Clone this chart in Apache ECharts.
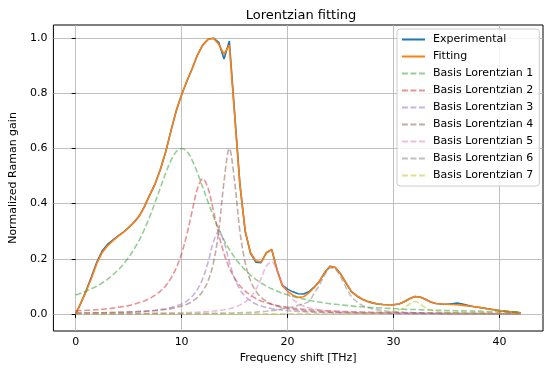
<!DOCTYPE html>
<html><head><meta charset="utf-8">
<script src="https://cdn.jsdelivr.net/npm/echarts@6/dist/echarts.min.js"></script>
<style>html,body{margin:0;padding:0;background:#fff}#c{width:550px;height:371px}</style>
</head><body><div id="c"></div>
<script>
const freq = [0,0.5,1,1.5,2,2.5,3,3.5,4,4.5,5,5.5,6,6.5,7,7.5,8,8.5,9,9.5,
  10,10.5,11,11.5,12,12.5,13,13.5,14,14.5,15,15.5,16,16.5,17,17.5,18,18.5,19,19.5,
  20,20.5,21,21.5,22,22.5,23,23.5,24,24.5,25,25.5,26,26.5,27,27.5,28,28.5,29,29.5,
  30,30.5,31,31.5,32,32.5,33,33.5,34,34.5,35,35.5,36,36.5,37,37.5,38,38.5,39,39.5,
  40,40.5,41,41.5,42];

const experimental = [
  0.000,0.040,0.086,0.136,0.188,0.228,0.252,0.268,0.283,0.297,
  0.313,0.332,0.355,0.390,0.432,0.472,0.525,0.588,0.665,0.738,
  0.795,0.845,0.890,0.940,0.976,0.996,1.000,0.985,0.925,0.990,
  0.730,0.470,0.300,0.220,0.188,0.186,0.222,0.234,0.160,0.104,
  0.090,0.080,0.073,0.072,0.080,0.097,0.118,0.150,0.173,0.168,
  0.145,0.113,0.082,0.066,0.054,0.046,0.040,0.036,0.034,0.033,
  0.033,0.036,0.044,0.055,0.063,0.061,0.053,0.043,0.038,0.036,
  0.035,0.037,0.039,0.036,0.031,0.027,0.024,0.021,0.018,0.015,
  0.012,0.010,0.008,0.006,0.004];

const fitting = [
  0.000,0.040,0.082,0.130,0.183,0.222,0.247,0.265,0.281,0.296,
  0.313,0.332,0.355,0.390,0.432,0.472,0.525,0.588,0.665,0.738,
  0.795,0.845,0.890,0.940,0.976,0.996,1.000,0.978,0.942,0.975,
  0.720,0.470,0.300,0.222,0.193,0.188,0.222,0.234,0.160,0.102,
  0.082,0.068,0.060,0.062,0.076,0.095,0.118,0.150,0.173,0.168,
  0.145,0.113,0.082,0.066,0.054,0.046,0.040,0.036,0.034,0.033,
  0.033,0.036,0.044,0.055,0.063,0.061,0.053,0.043,0.038,0.036,
  0.035,0.034,0.033,0.031,0.029,0.027,0.024,0.021,0.018,0.015,
  0.012,0.010,0.008,0.006,0.004];

const basis1 = [
  0.069,0.075,0.083,0.091,0.101,0.112,0.125,0.141,0.159,0.180,
  0.205,0.234,0.268,0.308,0.354,0.405,0.458,0.511,0.557,0.589,
  0.600,0.589,0.557,0.511,0.458,0.405,0.354,0.308,0.268,0.234,
  0.205,0.180,0.159,0.141,0.125,0.112,0.101,0.091,0.083,0.075,
  0.069,0.063,0.058,0.054,0.050,0.046,0.043,0.040,0.037,0.035,
  0.033,0.031,0.029,0.027,0.026,0.024,0.023,0.022,0.021,0.020,
  0.019,0.018,0.017,0.016,0.016,0.015,0.014,0.014,0.013,0.013,
  0.012,0.012,0.011,0.011,0.011,0.010,0.010,0.009,0.009,0.009,
  0.009,0.008,0.008,0.008,0.008];

const basis2 = [
  0.011,0.012,0.013,0.014,0.015,0.017,0.019,0.021,0.024,0.027,
  0.030,0.035,0.041,0.047,0.056,0.068,0.083,0.102,0.130,0.167,
  0.219,0.289,0.374,0.455,0.490,0.455,0.374,0.289,0.219,0.167,
  0.130,0.102,0.083,0.068,0.056,0.047,0.041,0.035,0.030,0.027,
  0.024,0.021,0.019,0.017,0.015,0.014,0.013,0.012,0.011,0.010,
  0.0092,0.0086,0.0080,0.0075,0.0070,0.0065,0.0061,0.0058,0.0054,0.0051,
  0.0049,0.0046,0.0044,0.0041,0.0039,0.0037,0.0035,0.0034,0.0032,0.0031,
  0.0030,0.0029,0.0027,0.0026,0.0025,0.0024,0.0023,0.0023,0.0022,0.0021,
  0.0020,0.0019,0.0019,0.0018,0.0018];

const basis3 = [
  0.0028,0.0030,0.0032,0.0035,0.0038,0.0041,0.0045,0.0050,0.0055,0.0061,
  0.0069,0.0077,0.0088,0.0100,0.0116,0.0135,0.016,0.019,0.023,0.029,
  0.036,0.047,0.064,0.089,0.129,0.188,0.261,0.300,0.261,0.188,
  0.129,0.089,0.064,0.047,0.036,0.029,0.023,0.019,0.016,0.0135,
  0.0116,0.0100,0.0088,0.0077,0.0069,0.0061,0.0055,0.0050,0.0045,0.0041,
  0.0038,0.0035,0.0032,0.0030,0.0028,0.0026,0.0024,0.0022,0.0021,0.0020,
  0.0019,0.0018,0.0017,0.0016,0.0015,0.0014,0.0013,0.0013,0.0012,0.0012,
  0.0011,0.0011,0.0010,0.0010,0.0010,0.0009,0.0009,0.0009,0.0008,0.0008,
  0.0008,0.0008,0.0007,0.0007,0.0007];

const basis4 = [
  0.0028,0.0031,0.0033,0.0035,0.0038,0.0042,0.0045,0.0049,0.0054,0.0059,
  0.0066,0.0073,0.0082,0.0092,0.0105,0.0120,0.0139,0.0162,0.0192,0.0231,
  0.0283,0.0353,0.0453,0.060,0.0828,0.120,0.185,0.300,0.480,0.600,
  0.480,0.300,0.185,0.120,0.0828,0.060,0.0453,0.0353,0.0283,0.0231,
  0.0192,0.0162,0.0139,0.0120,0.0105,0.0092,0.0082,0.0073,0.0066,0.0059,
  0.0054,0.0049,0.0045,0.0042,0.0038,0.0035,0.0033,0.0031,0.0028,0.0027,
  0.0025,0.0023,0.0022,0.0021,0.0020,0.0018,0.0017,0.0017,0.0016,0.0015,
  0.0014,0.0014,0.0013,0.0012,0.0012,0.0011,0.0011,0.0010,0.0010,0.0010,
  0.0009,0.0009,0.0009,0.0008,0.0008];

const basis5 = [
  0.0009,0.0010,0.0010,0.0011,0.0012,0.0013,0.0013,0.0014,0.0015,0.0016,
  0.0018,0.0019,0.0021,0.0023,0.0025,0.0027,0.0029,0.0032,0.0036,0.0040,
  0.0044,0.0050,0.0057,0.0065,0.0075,0.0088,0.0104,0.0125,0.0152,0.019,
  0.0242,0.0318,0.0431,0.0606,0.088,0.128,0.174,0.189,0.157,0.111,
  0.0755,0.0526,0.038,0.0284,0.0219,0.0174,0.0141,0.0116,0.0097,0.0083,
  0.0071,0.0062,0.0054,0.0048,0.0042,0.0038,0.0034,0.0031,0.0028,0.0026,
  0.0024,0.0022,0.0020,0.0019,0.0017,0.0016,0.0015,0.0014,0.0013,0.0012,
  0.0012,0.0011,0.0010,0.0010,0.0009,0.0009,0.0008,0.0008,0.0008,0.0007,
  0.0007,0.0007,0.0006,0.0006,0.0006];

const basis6 = [
  0.0004,0.0004,0.0004,0.0004,0.0005,0.0005,0.0005,0.0005,0.0006,0.0006,
  0.0006,0.0007,0.0007,0.0008,0.0008,0.0009,0.0009,0.0010,0.0011,0.0012,
  0.0013,0.0014,0.0015,0.0017,0.0019,0.0021,0.0023,0.0026,0.0029,0.0033,
  0.0037,0.0042,0.0048,0.0056,0.0066,0.0079,0.0095,0.0117,0.0146,0.0186,
  0.0220,0.0260,0.0310,0.0370,0.0450,0.0740,0.1040,0.1410,0.1670,0.1620,
  0.1340,0.0970,0.0640,0.0450,0.0320,0.0243,0.0186,0.0146,0.0117,0.0095,
  0.0079,0.0066,0.0056,0.0048,0.0042,0.0037,0.0033,0.0029,0.0026,0.0023,
  0.0021,0.0019,0.0017,0.0015,0.0014,0.0013,0.0012,0.0011,0.0010,0.0009,
  0.0009,0.0008,0.0008,0.0007,0.0007];

const basis7 = [
  0.0000,0.0000,0.0000,0.0000,0.0000,0.0001,0.0001,0.0001,0.0001,0.0001,
  0.0001,0.0001,0.0001,0.0001,0.0001,0.0001,0.0001,0.0001,0.0001,0.0001,
  0.0001,0.0001,0.0001,0.0001,0.0001,0.0002,0.0002,0.0002,0.0002,0.0002,
  0.0002,0.0002,0.0002,0.0002,0.0002,0.0002,0.0002,0.0003,0.0003,0.0003,
  0.0003,0.0004,0.0004,0.0004,0.0005,0.0005,0.0006,0.0006,0.0007,0.0008,
  0.0009,0.0010,0.0012,0.0014,0.0017,0.0021,0.0026,0.0034,0.0045,0.0062,
  0.0090,0.0138,0.0225,0.0360,0.0450,0.0360,0.0225,0.0138,0.0090,0.0062,
  0.0045,0.0034,0.0026,0.0021,0.0017,0.0014,0.0012,0.0010,0.0009,0.0008,
  0.0007,0.0006,0.0006,0.0005,0.0005];

const xTicks = [0, 10, 20, 30, 40];
const yTicks = [0.0, 0.2, 0.4, 0.6, 0.8, 1.0];
const seriesNames = ['Experimental','Fitting','Basis Lorentzian 1','Basis Lorentzian 2','Basis Lorentzian 3',
  'Basis Lorentzian 4','Basis Lorentzian 5','Basis Lorentzian 6','Basis Lorentzian 7'];

const FONT = 'DejaVu Sans';
const pair = ys => freq.map((x, i) => [x, ys[i]]);
const basisData = [basis1, basis2, basis3, basis4, basis5, basis6, basis7];
const basisColors = ['#2ca02c','#d62728','#9467bd','#8c564b','#e377c2','#7f7f7f','#bcbd22'];

const series = [
  {name: seriesNames[0], type: 'line', data: pair(experimental), showSymbol: false, symbol: 'none',
   lineStyle: {color: '#1f77b4', width: 1.6}, itemStyle: {color: '#1f77b4'}},
  {name: seriesNames[1], type: 'line', data: pair(fitting), showSymbol: false, symbol: 'none',
   lineStyle: {color: '#ff7f0e', width: 1.6}, itemStyle: {color: '#ff7f0e'}}
];
basisData.forEach((b, k) => {
  series.push({name: seriesNames[k + 2], type: 'line', data: pair(b), showSymbol: false, symbol: 'none',
    smooth: 0.35,
    lineStyle: {color: basisColors[k], width: 1.6, type: [5.9, 2.6], opacity: 0.5},
    itemStyle: {color: basisColors[k], opacity: 0.5}});
});

const chart = echarts.init(document.getElementById('c'), null, {renderer: 'canvas'});
chart.setOption({
  animation: false,
  backgroundColor: '#ffffff',
  textStyle: {fontFamily: FONT},
  title: {text: 'Lorentzian fitting', left: 296, top: 4, textAlign: 'center',
    textStyle: {fontFamily: FONT, fontSize: 13, fontWeight: 'normal', color: '#000'}},
  grid: {left: 49, right: 7, top: 25, bottom: 40, show: true, borderColor: '#000', borderWidth: 1,
    backgroundColor: 'transparent'},
  legend: {
    orient: 'vertical', left: 397, top: 29, padding: [4, 6, 4, 4],
    backgroundColor: 'rgba(255,255,255,0.8)', borderColor: '#cccccc', borderWidth: 1, borderRadius: 3,
    itemWidth: 23, itemHeight: 10, itemGap: 4,
    itemStyle: {opacity: 0, borderWidth: 0},
    textStyle: {fontFamily: FONT, fontSize: 11, color: '#000', lineHeight: 13, padding: [0, 0, 0, 3]},
    data: seriesNames
  },
  xAxis: {
    type: 'value', min: -2.1, max: 44.1,
    name: 'Frequency shift [THz]', nameLocation: 'middle', nameGap: 21,
    nameTextStyle: {fontFamily: FONT, fontSize: 11, color: '#000'},
    axisLine: {show: false},
    axisTick: {show: true, length: 4, lineStyle: {color: '#000'}, customValues: xTicks},
    axisLabel: {fontFamily: FONT, fontSize: 11, color: '#000', margin: 6, customValues: xTicks,
      formatter: v => String(v)},
    splitLine: {show: true, lineStyle: {color: '#b0b0b0', width: 0.8}}
  },
  yAxis: {
    type: 'value', min: -0.062, max: 1.048,
    name: 'Normalized Raman gain', nameLocation: 'middle', nameGap: 33, nameRotate: 90,
    nameTextStyle: {fontFamily: FONT, fontSize: 11, color: '#000'},
    axisLine: {show: false},
    axisTick: {show: true, length: 4, lineStyle: {color: '#000'}, customValues: yTicks},
    axisLabel: {fontFamily: FONT, fontSize: 11, color: '#000', margin: 6, customValues: yTicks,
      formatter: v => v.toFixed(1)},
    splitLine: {show: true, lineStyle: {color: '#b0b0b0', width: 0.8}}
  },
  series: series
});
</script></body></html>
